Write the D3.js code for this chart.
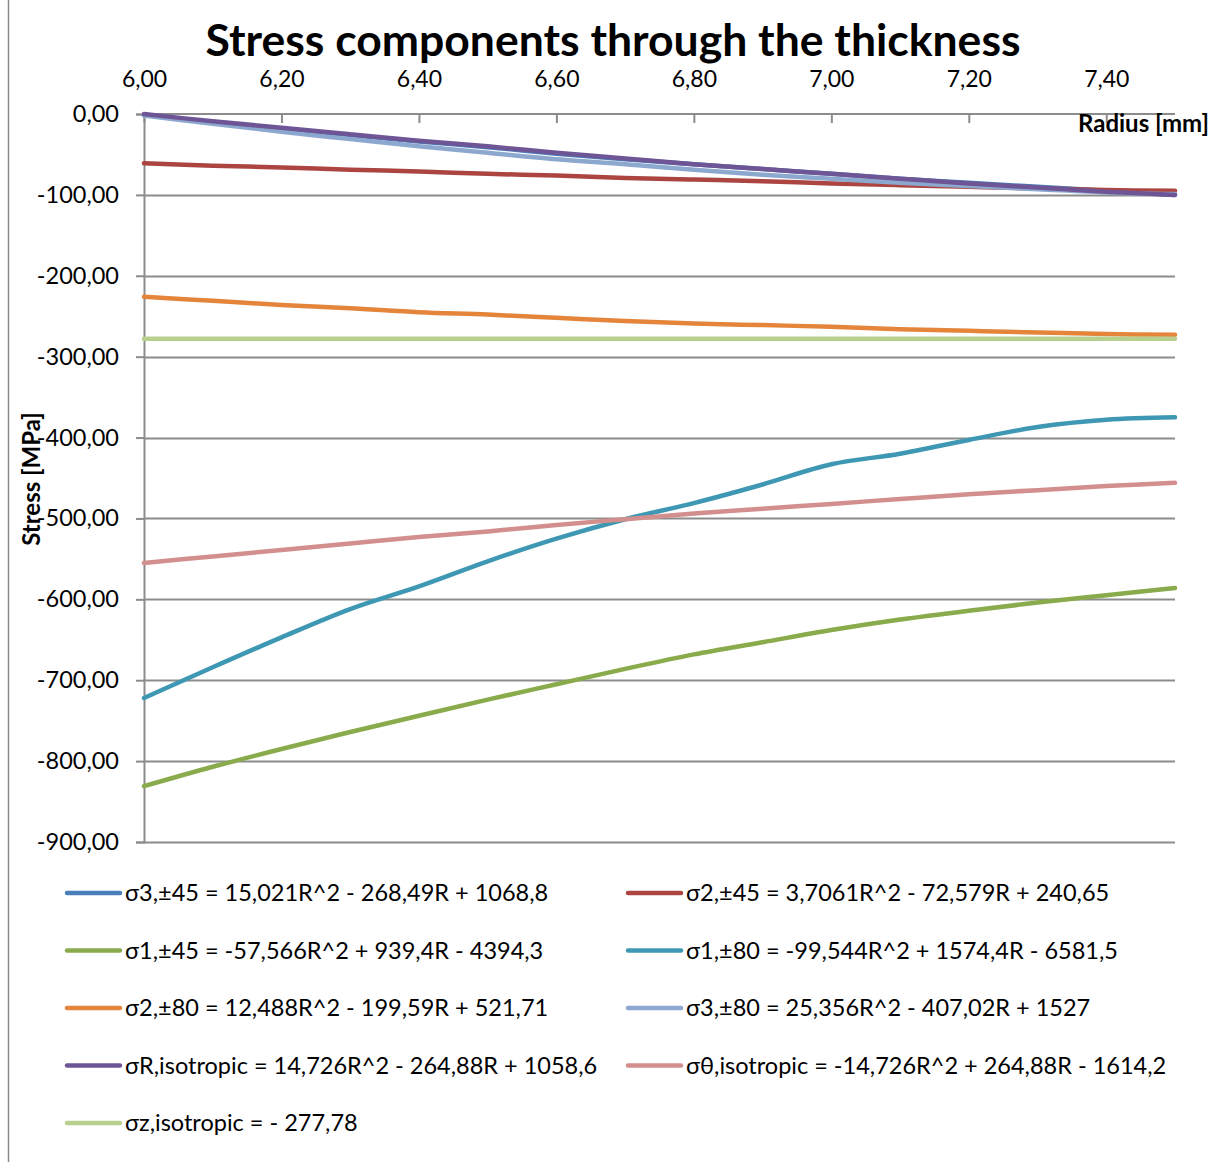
<!DOCTYPE html>
<html>
<head>
<meta charset="utf-8">
<script src="https://cdn.jsdelivr.net/npm/d3@7"></script>
<style>
  html, body { margin: 0; padding: 0; background: #fff; }
  svg { display: block; font-family: Lato, "Open Sans", sans-serif; }
</style>
</head>
<body>
<svg id="chart" width="1212" height="1162"></svg>
<script>
// Radius positions through the wall [mm]
const radius = [6.0, 6.1, 6.2, 6.3, 6.4, 6.5, 6.6, 6.7, 6.8, 6.9, 7.0, 7.1, 7.2, 7.3, 7.4, 7.5];

// Stress components [MPa] at each radius
const s3_45  = [-1, -10, -18, -26, -34, -41, -49, -56, -62, -68, -74, -80, -85, -90, -95, -100];
const s2_45  = [-61, -64, -66, -69, -71, -74, -76, -79, -81, -83, -86, -88, -90, -92, -94, -95];
const s1_45  = [-831, -807, -785, -764, -744, -724, -705, -686, -668, -653, -638, -625, -614, -604, -595, -586];
const s1_80  = [-722, -684, -647, -612, -584, -553, -525, -501, -481, -458, -433, -420, -403, -387, -378, -375];
const s2_80  = [-226, -231, -236, -240, -245, -248, -252, -256, -259, -261, -263, -266, -268, -270, -272, -273];
const s3_80  = [-2, -12, -22, -31, -40, -48, -56, -62, -69, -75, -80, -85, -89, -93, -97, -99];
const sR_iso = [0, -9, -17, -25, -33, -40, -48, -55, -62, -68, -74, -80, -86, -91, -96, -100];
const sT_iso = [-555, -547, -539, -531, -523, -516, -508, -501, -494, -488, -482, -476, -470, -465, -460, -456];
const sZ_iso = [-277.78, -277.78, -277.78, -277.78, -277.78, -277.78, -277.78, -277.78, -277.78, -277.78, -277.78, -277.78, -277.78, -277.78, -277.78, -277.78];

const seriesNames = [
  "σ3,±45 = 15,021R^2 - 268,49R + 1068,8",
  "σ2,±45 = 3,7061R^2 - 72,579R + 240,65",
  "σ1,±45 = -57,566R^2 + 939,4R - 4394,3",
  "σ1,±80 = -99,544R^2 + 1574,4R - 6581,5",
  "σ2,±80 = 12,488R^2 - 199,59R + 521,71",
  "σ3,±80 = 25,356R^2 - 407,02R + 1527",
  "σR,isotropic = 14,726R^2 - 264,88R + 1058,6",
  "σθ,isotropic = -14,726R^2 + 264,88R - 1614,2",
  "σz,isotropic = - 277,78"
];
const seriesValues = [s3_45, s2_45, s1_45, s1_80, s2_80, s3_80, sR_iso, sT_iso, sZ_iso];
const seriesColors = ["#4a7ebb", "#ac4541", "#8aab4b", "#3f98b3", "#e5843b", "#8da8cf", "#6e5596", "#d38e8e", "#b8d08d"];

const xTicks = [6.0, 6.2, 6.4, 6.6, 6.8, 7.0, 7.2, 7.4];
const yTicks = [0, -100, -200, -300, -400, -500, -600, -700, -800, -900];

const svg = d3.select("#chart");
const plot = { left: 144, right: 1175, top: 114, bottom: 842 };

const x = d3.scaleLinear().domain([6.0, 7.5]).range([plot.left, plot.right]);
const y = d3.scaleLinear().domain([0, -900]).range([plot.top, plot.bottom]);
const fmt = v => d3.format(".2f")(v).replace(".", ",").replace("−", "-");

// chart frame (left edge)
svg.append("line").attr("x1", 8.5).attr("x2", 8.5).attr("y1", 0).attr("y2", 1162)
  .attr("stroke", "#8a8a8a").attr("stroke-width", 1.5);

// title
svg.append("text").attr("x", 613).attr("y", 56).attr("text-anchor", "middle")
  .attr("font-weight", "bold").attr("font-size", 44.5).attr("fill", "#000")
  .text("Stress components through the thickness");

// horizontal gridlines
svg.append("g").selectAll("line").data(yTicks.slice(1)).join("line")
  .attr("x1", plot.left).attr("x2", plot.right)
  .attr("y1", d => Math.round(y(d)) + 0.5).attr("y2", d => Math.round(y(d)) + 0.5)
  .attr("stroke", "#8c8c8c").attr("stroke-width", 2);

// y axis
const yAxis = d3.axisLeft(y).tickValues(yTicks).tickSize(8).tickPadding(17).tickFormat(fmt);
const gy = svg.append("g").attr("transform", `translate(${plot.left},0)`).call(yAxis);
gy.select(".domain").attr("stroke", "#8c8c8c").attr("stroke-width", 2);
gy.selectAll(".tick line").attr("stroke", "#8c8c8c").attr("stroke-width", 2);
gy.selectAll(".tick text").attr("font-size", 23.5).attr("fill", "#000").attr("font-family", "Lato, sans-serif");

// x axis along the zero line, labels above
const xAxis = d3.axisBottom(x).tickValues(xTicks).tickSize(9).tickFormat(fmt);
const gx = svg.append("g").attr("transform", `translate(0,${plot.top})`).call(xAxis);
gx.select(".domain").attr("stroke", "#8c8c8c").attr("stroke-width", 2).attr("d", `M${plot.left},0H${plot.right}`);
gx.selectAll(".tick line").attr("stroke", "#8c8c8c").attr("stroke-width", 2);
gx.selectAll(".tick text").attr("font-size", 23).attr("fill", "#000")
  .attr("font-family", "Lato, sans-serif").attr("y", -35).attr("dy", "0.35em");

// axis titles
svg.append("text").attr("x", 1209).attr("y", 132).attr("text-anchor", "end")
  .attr("font-weight", "bold").attr("font-size", 24).text("Radius [mm]");
svg.append("text").attr("transform", "translate(40,479) rotate(-90)").attr("text-anchor", "middle")
  .attr("font-weight", "bold").attr("font-size", 24).text("Stress [MPa]");

// series lines
const line = d3.line().x((d, i) => x(radius[i])).y(d => y(d)).curve(d3.curveCatmullRom.alpha(0.5));
svg.append("g").selectAll("path").data(seriesValues).join("path")
  .attr("d", d => line(d))
  .attr("fill", "none")
  .attr("stroke", (d, i) => seriesColors[i])
  .attr("stroke-width", 4.5)
  .attr("stroke-linecap", "round")
  .attr("stroke-linejoin", "round");

// legend, two columns
const legend = svg.append("g");
const items = legend.selectAll("g").data(seriesNames).join("g")
  .attr("transform", (d, i) => `translate(${i % 2 === 0 ? 67 : 628},${893 + Math.floor(i / 2) * 57.5})`);
items.append("line").attr("x1", 0).attr("x2", 53).attr("y1", 0).attr("y2", 0)
  .attr("stroke", (d, i) => seriesColors[i]).attr("stroke-width", 4.5).attr("stroke-linecap", "round");
items.append("text").attr("x", 58).attr("y", 0).attr("dy", "0.35em")
  .attr("font-size", 23.5).attr("fill", "#000").text(d => d);
</script>
</body>
</html>
